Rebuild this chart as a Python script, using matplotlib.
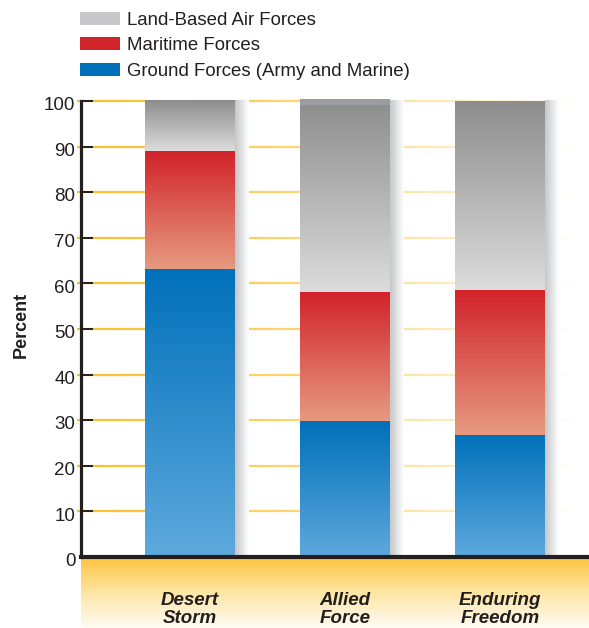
import numpy as np
import matplotlib
matplotlib.use("Agg")
import matplotlib.pyplot as plt
from matplotlib.colors import LinearSegmentedColormap, to_rgb
from matplotlib.collections import LineCollection
from matplotlib.patches import Patch
import matplotlib.transforms as mtransforms

plt.rcParams['font.family'] = ['Liberation Sans', 'DejaVu Sans']

# share of each operation, percent
operations = ['Desert\nStorm', 'Allied\nForce', 'Enduring\nFreedom']
ground = [63.2, 29.8, 26.8]
maritime = [25.8, 28.2, 31.8]
air = [11.0, 42.0, 41.4]
air_cap = [0.0, 1.3, 0.0]   # darker strip drawn at the top of the air segment

series_names = ['Land-Based Air Forces', 'Maritime Forces',
                'Ground Forces (Army and Marine)']
yticks = [0, 10, 20, 30, 40, 50, 60, 70, 80, 90, 100]

TXT = '#231f20'
GRID = '#fdbf2f'

# top colour, bottom colour of each segment
grad_ground = ('#0070ba', '#5ea9dd')
grad_maritime = ('#d1232a', '#e69a80')
grad_air = ('#8d8d8d', '#dcdcdc')

fig = plt.figure(figsize=(5.89, 6.28), dpi=100)
ax = fig.add_axes([0.1375, 0.1131, 0.8625, 0.7334])
ax.set_xlim(-0.703, 2.574)
ax.set_ylim(0, 101)

x = np.arange(len(operations))
width = 0.58


def vgrad(x0, x1, y0, y1, top, bottom, z=3):
    cmap = LinearSegmentedColormap.from_list('g', [bottom, top])
    img = np.linspace(0, 1, 256).reshape(-1, 1)
    ax.imshow(img, cmap=cmap, origin='lower', aspect='auto',
              extent=[x0, x1, y0, y1], zorder=z, interpolation='bilinear')


def hgrad(x0, x1, y0, y1, left, right, z=2):
    cmap = LinearSegmentedColormap.from_list('h', [left, right])
    img = np.linspace(0, 1, 256).reshape(1, -1)
    ax.imshow(img, cmap=cmap, origin='lower', aspect='auto',
              extent=[x0, x1, y0, y1], zorder=z, interpolation='bilinear')


# fading gridlines
white = np.array([1.0, 1.0, 1.0])
gc = np.array(to_rgb(GRID))
xs = np.linspace(-0.73, 2.574, 300)
for yv in yticks[1:]:
    segs = [[(xs[i], yv), (xs[i + 1], yv)] for i in range(len(xs) - 1)]
    t = np.clip((xs[:-1] + 0.73) / 3.25, 0, 1) ** 1.3
    cols = [tuple(gc * (1 - ti) + white * ti) for ti in t]
    lc = LineCollection(segs, colors=cols, linewidths=1.6, zorder=1,
                        clip_on=False)
    ax.add_collection(lc)

for i in range(len(operations)):
    x0, x1 = x[i] - width / 2, x[i] + width / 2
    g, m, a = ground[i], maritime[i], air[i]
    # soft shadow right of the bar
    hgrad(x1, x1 + 0.085, 0, 100, '#c6c7ca', '#ffffff', z=2)
    vgrad(x0, x1, 0, g, *grad_ground)
    vgrad(x0, x1, g, g + m, *grad_maritime)
    vgrad(x0, x1, g + m, g + m + a, *grad_air)
    if air_cap[i]:
        top = g + m + a
        ax.fill_between([x0, x1], top - air_cap[i] + 0.4, top + 0.4,
                        color='#9c9da0', lw=0, zorder=4)

ax.set_xlim(-0.703, 2.574)
ax.set_ylim(0, 101)

for s in ['top', 'right']:
    ax.spines[s].set_visible(False)
ax.spines['left'].set_bounds(0, 100)
ax.spines['left'].set_linewidth(2.3)
ax.spines['left'].set_color(TXT)
ax.spines['bottom'].set_linewidth(3.0)
ax.spines['bottom'].set_color(TXT)
ax.spines['bottom'].set_zorder(6)
ax.spines['left'].set_zorder(6)

ax.set_yticks(yticks)
ax.tick_params(axis='y', direction='in', length=8.5, width=1.4, color=TXT,
               labelsize=13.5, labelcolor=TXT, pad=4)
ax.set_xticks([])
off = mtransforms.ScaledTranslation(0, -2 / 72, fig.dpi_scale_trans)
for lab in ax.get_yticklabels():
    lab.set_transform(lab.get_transform() + off)

# warm band under the axis
band = fig.add_axes([0.1375, 0.0, 0.8625, 0.1131 - 0.004], zorder=-1)
band_cmap = LinearSegmentedColormap.from_list(
    'band', ['#fffcf4', '#fee6a6', '#fcc644'])
band.imshow(np.linspace(0, 1, 256).reshape(-1, 1), cmap=band_cmap,
            origin='lower', aspect='auto', extent=[0, 1, 0, 1])
band.axis('off')

trans = mtransforms.blended_transform_factory(ax.transData, fig.transFigure)
for i, name in enumerate(operations):
    ax.text(x[i], 0.029, name, transform=trans, ha='center', va='center',
            fontsize=13.5, fontweight='bold', fontstyle='italic', color=TXT,
            linespacing=1.05)

fig.text(21 / 589, (628 - 325) / 628, 'Percent', rotation=90, ha='center',
         va='center', fontsize=13, fontweight='bold', color=TXT)

handles = [Patch(facecolor='#c8c8ca', edgecolor='none'),
           Patch(facecolor='#d2242b', edgecolor='none'),
           Patch(facecolor='#006fba', edgecolor='none')]
fig.legend(handles, series_names, loc='upper left',
           bbox_to_anchor=(76 / 589, 1 - 8 / 628), frameon=False,
           fontsize=13.4, handlelength=2.15, handleheight=0.7,
           handletextpad=0.4, labelspacing=0.46, labelcolor=TXT,
           borderaxespad=0, borderpad=0.2)

fig.savefig('out.png', dpi=100)
